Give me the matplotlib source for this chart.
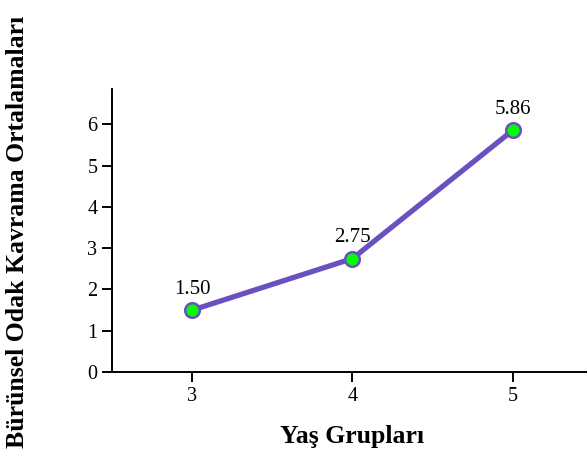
import matplotlib
matplotlib.use("Agg")
import matplotlib.pyplot as plt

# Mean scores by age group
age_groups = [3, 4, 5]
means = [1.50, 2.75, 5.86]
y_ticks = [0, 1, 2, 3, 4, 5, 6]

plt.rcParams['font.family'] = ['Liberation Serif', 'DejaVu Serif']

fig = plt.figure(figsize=(5.87, 4.61), dpi=100)
ax = fig.add_axes([112 / 587, 89 / 461, 481 / 587, 283 / 461])

ax.plot(age_groups, means, color='#6a50c0', linewidth=3.8, zorder=2,
        marker='o', markersize=10.5, markerfacecolor='#00ff00',
        markeredgecolor='#6a50c0', markeredgewidth=1.8, clip_on=False)

for x, y in zip(age_groups, means):
    ax.annotate("%.2f" % y, (x, y), xytext=(0, 8), textcoords='offset points',
                ha='center', va='bottom', fontsize=15)

ax.set_xlim(2.5, 5.5)
ax.set_ylim(0, 6.86)
ax.set_xticks(age_groups)
ax.set_yticks(y_ticks)

for side in ['top', 'right']:
    ax.spines[side].set_visible(False)
for side in ['left', 'bottom']:
    ax.spines[side].set_linewidth(1.4)
ax.tick_params(length=7.5, width=1.4, labelsize=14.5, pad=3)

ax.set_xlabel('Yaş Grupları', fontsize=18.5, fontweight='bold', labelpad=14)
fig.text(18 / 587, 0.497, 'Bürünsel Odak Kavrama Ortalamaları', rotation=90,
         ha='center', va='center', fontsize=18.5, fontweight='bold')

fig.savefig('out.png', dpi=100)
